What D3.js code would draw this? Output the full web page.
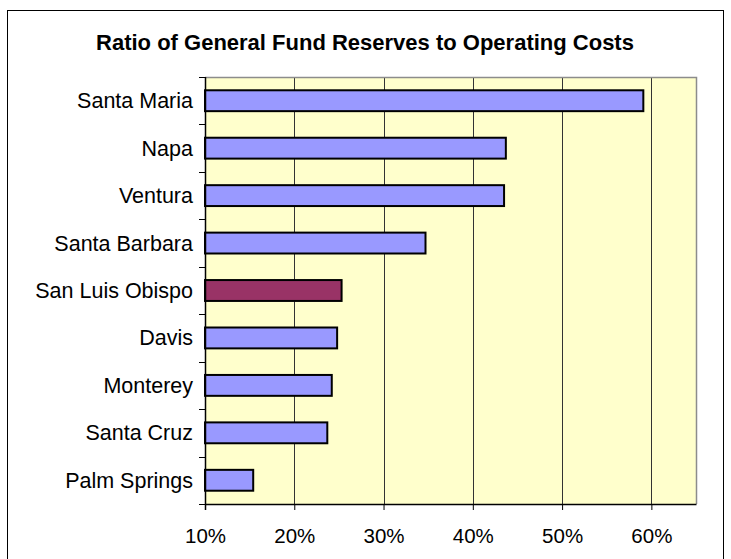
<!DOCTYPE html>
<html>
<head>
<meta charset="utf-8">
<script src="https://cdn.jsdelivr.net/npm/d3@7"></script>
<style>
  html, body { margin: 0; padding: 0; background: #fff; }
  svg { display: block; }
  text { font-family: "Liberation Sans", Arial, sans-serif; fill: #000; }
</style>
</head>
<body>
<svg id="chart" width="731" height="559"></svg>
<script>
// Cities, top to bottom
const cities = ["Santa Maria", "Napa", "Ventura", "Santa Barbara", "San Luis Obispo",
                "Davis", "Monterey", "Santa Cruz", "Palm Springs"];
// Ratio of general fund reserves to operating costs (fraction)
const ratios = [0.591, 0.437, 0.435, 0.347, 0.253, 0.248, 0.242, 0.237, 0.154];
// Highlighted city
const highlight = "San Luis Obispo";
// X axis ticks
const xTicks = [0.1, 0.2, 0.3, 0.4, 0.5, 0.6];
const xDomain = [0.1, 0.65];
const title = "Ratio of General Fund Reserves to Operating Costs";

const svg = d3.select("#chart");
const plot = { left: 205, right: 696, top: 77, bottom: 504 };

// outer chart frame
svg.append("rect")
  .attr("x", 7.5).attr("y", 10.5)
  .attr("width", 716).attr("height", 600)
  .attr("fill", "#fff").attr("stroke", "#000").attr("stroke-width", 1);

const x = d3.scaleLinear().domain(xDomain).range([plot.left, plot.right]);
const y = d3.scaleBand().domain(cities).range([plot.top, plot.bottom])
  .paddingInner(0.56).paddingOuter(0.28);
const yb = d3.scaleBand().domain(cities).range([plot.top, plot.bottom]);

// plot area background
svg.append("rect")
  .attr("x", plot.left).attr("y", plot.top)
  .attr("width", plot.right - plot.left).attr("height", plot.bottom - plot.top)
  .attr("fill", "#FFFFCC");

// vertical gridlines
svg.append("g").selectAll("line")
  .data(xTicks.slice(1))
  .join("line")
  .attr("x1", d => Math.round(x(d)) + 0.5).attr("x2", d => Math.round(x(d)) + 0.5)
  .attr("y1", plot.top).attr("y2", plot.bottom)
  .attr("stroke", "#333").attr("stroke-width", 1);

// plot border (top and right)
svg.append("path")
  .attr("d", `M${plot.left},${plot.top + 0.5}H${plot.right + 0.5}V${plot.bottom}`)
  .attr("fill", "none").attr("stroke", "#8c8c8c").attr("stroke-width", 1.5);

// bars
svg.append("g").selectAll("rect")
  .data(cities)
  .join("rect")
  .attr("x", plot.left)
  .attr("y", d => y(d))
  .attr("width", (d, i) => x(ratios[i]) - plot.left)
  .attr("height", y.bandwidth())
  .attr("fill", d => d === highlight ? "#993366" : "#9999FF")
  .attr("stroke", "#000").attr("stroke-width", 2);

// y axis line + ticks at category boundaries
const yAxisG = svg.append("g");
yAxisG.append("line")
  .attr("x1", plot.left + 0.5).attr("x2", plot.left + 0.5)
  .attr("y1", plot.top).attr("y2", plot.bottom + 6)
  .attr("stroke", "#000").attr("stroke-width", 1.5);
const bounds = cities.map(c => yb(c)).concat([plot.bottom]);
yAxisG.selectAll("line.tick")
  .data(bounds)
  .join("line").attr("class", "tick")
  .attr("x1", plot.left - 6).attr("x2", plot.left)
  .attr("y1", d => Math.round(d) + 0.5).attr("y2", d => Math.round(d) + 0.5)
  .attr("stroke", "#000").attr("stroke-width", 1);
yAxisG.selectAll("text")
  .data(cities)
  .join("text")
  .attr("x", plot.left - 12)
  .attr("y", d => yb(d) + yb.bandwidth() / 2)
  .attr("dy", "0.35em")
  .attr("text-anchor", "end")
  .attr("font-size", "21.5px")
  .text(d => d);

// x axis
const xAxis = d3.axisBottom(x)
  .tickValues(xTicks)
  .tickSize(6)
  .tickSizeOuter(0)
  .tickFormat(d3.format(".0%"));
const xg = svg.append("g")
  .attr("transform", `translate(0,${plot.bottom})`)
  .call(xAxis);
xg.select(".domain").attr("stroke", "#000").attr("stroke-width", 1.5);
xg.selectAll(".tick line").attr("stroke", "#000");
xg.selectAll(".tick text")
  .attr("font-family", "Liberation Sans, Arial, sans-serif")
  .attr("font-size", "20.5px")
  .attr("fill", "#000")
  .attr("y", 24)
  .attr("dy", "0.71em");

// title
svg.append("text")
  .attr("x", 365).attr("y", 50)
  .attr("text-anchor", "middle")
  .attr("font-size", "22px")
  .attr("font-weight", "bold")
  .text(title);
</script>
</body>
</html>
